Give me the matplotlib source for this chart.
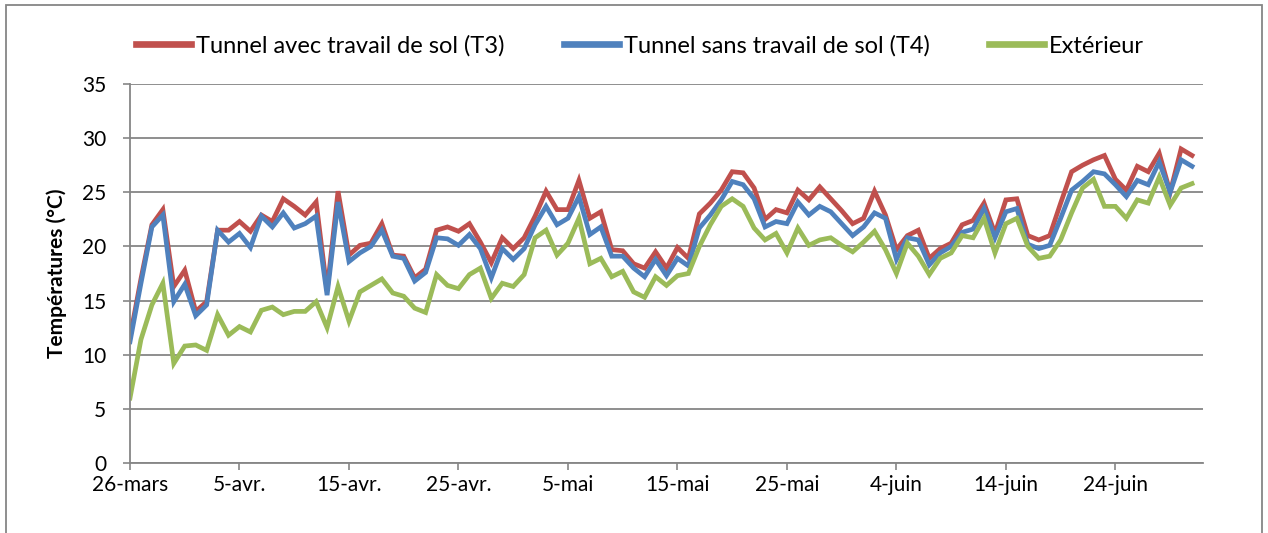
import matplotlib
matplotlib.use("Agg")
import matplotlib.pyplot as plt
from matplotlib.patches import Rectangle

plt.rcParams['font.family'] = ['Lato', 'DejaVu Sans']

tick_days = [0, 10, 20, 30, 40, 50, 60, 70, 80, 90]
tick_labels = ['26-mars', '5-avr.', '15-avr.', '25-avr.', '5-mai', '15-mai',
               '25-mai', '4-juin', '14-juin', '24-juin']

t3 = [11.6, 17.0, 22.0, 23.4, 16.3, 17.8, 14.0, 14.9, 21.5, 21.5,
      22.3, 21.4, 22.9, 22.3, 24.4, 23.7, 22.9, 24.1, 15.9, 25.1,
      19.2, 20.1, 20.3, 22.1, 19.2, 19.1, 17.1, 17.9, 21.5, 21.8,
      21.4, 22.1, 20.4, 18.5, 20.8, 19.8, 20.8, 22.8, 25.1, 23.4,
      23.4, 26.1, 22.6, 23.2, 19.7, 19.6, 18.4, 18.0, 19.5, 18.0,
      19.9, 18.9, 23.0, 24.0, 25.2, 26.9, 26.8, 25.4, 22.5, 23.4,
      23.1, 25.2, 24.3, 25.5, 24.4, 23.3, 22.1, 22.6, 25.1, 22.9,
      19.7, 21.0, 21.5, 18.9, 19.8, 20.3, 22.0, 22.4, 24.0, 21.2,
      24.3, 24.4, 21.0, 20.6, 21.0, 24.0, 26.9, 27.5, 28.0, 28.4,
      26.2, 25.2, 27.4, 26.9, 28.6, 25.0, 29.0, 28.4]

t4 = [11.2, 16.6, 21.8, 22.9, 14.9, 16.5, 13.6, 14.6, 21.5, 20.4,
      21.2, 19.9, 22.8, 21.8, 23.1, 21.7, 22.1, 22.8, 15.5, 24.1,
      18.6, 19.4, 20.0, 21.5, 19.1, 18.9, 16.8, 17.6, 20.8, 20.7,
      20.1, 21.1, 19.8, 17.1, 19.8, 18.8, 19.8, 22.0, 23.7, 22.0,
      22.6, 24.6, 21.1, 21.8, 19.1, 19.1, 18.0, 17.2, 18.8, 17.3,
      18.9, 18.2, 21.7, 22.9, 24.3, 26.0, 25.7, 24.4, 21.8, 22.3,
      22.1, 24.1, 22.9, 23.7, 23.2, 22.1, 21.0, 21.8, 23.1, 22.6,
      18.8, 20.8, 20.6, 18.3, 19.4, 20.0, 21.3, 21.6, 23.5, 20.8,
      23.2, 23.5, 20.2, 19.8, 20.1, 22.6, 25.2, 26.0, 26.9, 26.7,
      25.7, 24.6, 26.1, 25.7, 27.8, 25.0, 28.0, 27.4]

ext = [6.0, 11.4, 14.6, 16.6, 9.2, 10.8, 10.9, 10.4, 13.7, 11.8,
       12.6, 12.1, 14.1, 14.4, 13.7, 14.0, 14.0, 14.9, 12.5, 16.3,
       13.1, 15.8, 16.4, 17.0, 15.7, 15.4, 14.3, 13.9, 17.4, 16.4,
       16.1, 17.4, 18.0, 15.2, 16.6, 16.3, 17.4, 20.8, 21.5, 19.2,
       20.3, 22.6, 18.4, 18.9, 17.2, 17.7, 15.8, 15.3, 17.2, 16.4,
       17.3, 17.5, 20.0, 22.0, 23.7, 24.4, 23.7, 21.7, 20.6, 21.2,
       19.4, 21.7, 20.1, 20.6, 20.8, 20.1, 19.5, 20.4, 21.4, 19.7,
       17.5, 20.3, 19.1, 17.4, 18.9, 19.4, 21.0, 20.8, 22.6, 19.4,
       22.1, 22.6, 20.0, 18.9, 19.1, 20.6, 23.1, 25.4, 26.2, 23.7,
       23.7, 22.6, 24.3, 24.0, 26.4, 23.8, 25.4, 25.8]

series_names = ['Tunnel avec travail de sol (T3)', 'Tunnel sans travail de sol (T4)', 'Extérieur']
colors = ['#C0504D', '#4F81BD', '#9BBB59']

days = list(range(len(t3)))

fig = plt.figure(figsize=(12.68, 5.33), dpi=100)
ax = fig.add_axes([130 / 1268, 1 - 463 / 533, (1203 - 130) / 1268, (463 - 84) / 533])

for data, name, c in zip([t3, t4, ext], series_names, colors):
    ax.plot(days, data, color=c, lw=3.4, label=name, solid_joinstyle='miter')

ax.set_xlim(0, 98)
ax.set_ylim(0, 35)
ax.set_yticks(range(0, 36, 5))
ax.set_xticks(tick_days)
ax.set_xticklabels(tick_labels)
ax.yaxis.grid(True, color='#868686', lw=1.3)
ax.set_axisbelow(True)
for s in ['top', 'right']:
    ax.spines[s].set_visible(False)
for s in ['left', 'bottom']:
    ax.spines[s].set_color('#868686')
    ax.spines[s].set_linewidth(1.3)
ax.tick_params(axis='both', colors='#868686', labelcolor='black', labelsize=15,
               length=5, width=1.2)
ax.tick_params(axis='y', pad=12)
ax.set_ylabel('Températures (°C)', fontsize=15, fontweight='bold', labelpad=11)

leg = fig.legend(loc='center', bbox_to_anchor=(640 / 1268, 1 - 46 / 533), ncol=3,
                 frameon=False, fontsize=17, handlelength=2.35, handletextpad=0.2,
                 columnspacing=2.5)
for line in leg.get_lines():
    line.set_linewidth(4.8)

fig.patches.append(Rectangle((6 / 1268, -0.01), 1 - 12 / 1268, 1 - 5 / 533 + 0.01,
                             transform=fig.transFigure, fill=False,
                             edgecolor='#868686', lw=1.3))

fig.savefig('out.png', dpi=100)
